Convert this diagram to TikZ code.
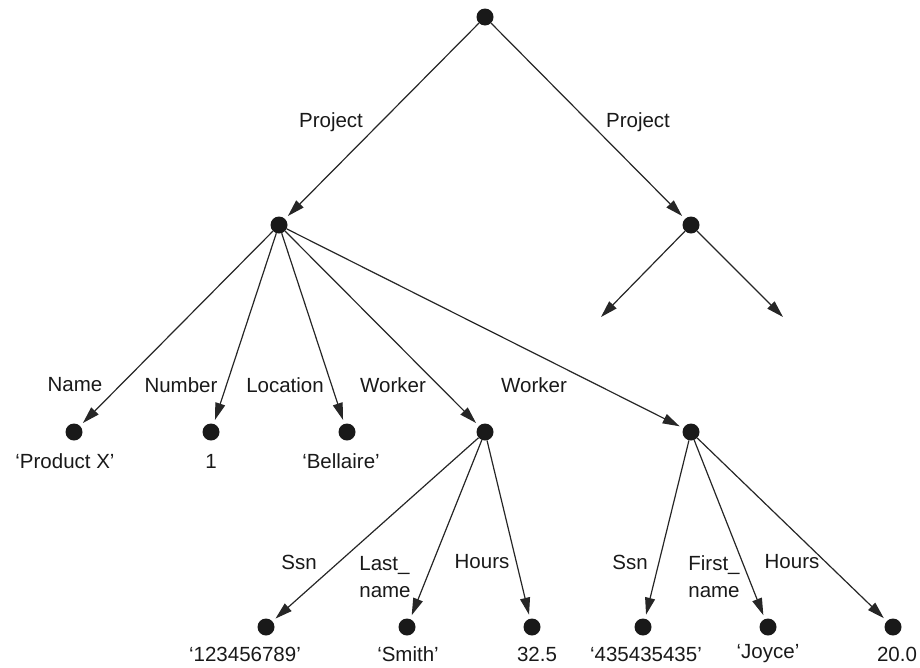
\documentclass[tikz,border=0pt]{standalone}
\usepackage{fontspec}
\setmainfont{Liberation Sans}
\usetikzlibrary{arrows.meta}
\begin{document}
\begin{tikzpicture}[x=1pt,y=-1pt,
  dot/.style={circle,fill=black!90,inner sep=0pt,minimum size=17pt},
  lbl/.style={inner sep=0pt,font=\fontsize{20.5}{27}\selectfont,text=black!90},
  edge/.style={draw=black!85,line width=1.2pt,-{Triangle[length=17pt,width=10pt]},shorten >=4pt}]
\useasboundingbox (0,0) rectangle (920,667);
% dots
\node[dot] (root) at (485,17) {};
\node[dot] (p1) at (279,225) {};
\node[dot] (p2) at (691,225) {};
\coordinate (e1) at (601,317);
\coordinate (e2) at (783,317);
\node[dot] (name) at (74,432) {};
\node[dot] (num) at (211,432) {};
\node[dot] (loc) at (347,432) {};
\node[dot] (w1) at (485,432) {};
\node[dot] (w2) at (691,432) {};
\node[dot] (ssn1) at (266,627) {};
\node[dot] (last) at (407,627) {};
\node[dot] (h1) at (532,627) {};
\node[dot] (ssn2) at (643,627) {};
\node[dot] (first) at (768,627) {};
\node[dot] (h2) at (893,627) {};
% edges
\draw[edge] (root) -- (p1);
\draw[edge] (root) -- (p2);
\draw[edge,shorten >=0pt] (p2) -- (e1);
\draw[edge,shorten >=0pt] (p2) -- (e2);
\draw[edge] (p1) -- (name);
\draw[edge] (p1) -- (num);
\draw[edge] (p1) -- (loc);
\draw[edge] (p1) -- (w1);
\draw[edge] (p1) -- (w2);
\draw[edge] (w1) -- (ssn1);
\draw[edge] (w1) -- (last);
\draw[edge] (w1) -- (h1);
\draw[edge] (w2) -- (ssn2);
\draw[edge] (w2) -- (first);
\draw[edge] (w2) -- (h2);
% edge labels
\node[lbl] (lp1) at (331,122) {Project};
\node[lbl] (lp2) at (638,122) {Project};
\node[lbl] (lname) at (75,385) {Name};
\node[lbl] (lnum) at (181,385) {Number};
\node[lbl] (lloc) at (285,385) {Location};
\node[lbl] (lw1) at (393,385) {Worker};
\node[lbl] (lw2) at (534,385) {Worker};
\node[lbl] (lssn1) at (299,562) {Ssn};
\node[lbl,align=left] (llast) at (385,577) {Last\_\\name};
\node[lbl] (lh1) at (482,562) {Hours};
\node[lbl] (lssn2) at (630,562) {Ssn};
\node[lbl,align=left] (lfirst) at (714,577) {First\_\\name};
\node[lbl] (lh2) at (792,562) {Hours};
% values
\node[lbl] (vname) at (65,461) {`Product X'};
\node[lbl] (vnum) at (211,461) {1};
\node[lbl] (vloc) at (341,461) {`Bellaire'};
\node[lbl] (vssn1) at (245,654) {`123456789'};
\node[lbl] (vlast) at (408,654) {`Smith'};
\node[lbl] (vh1) at (537,654) {32.5};
\node[lbl] (vssn2) at (646,654) {`435435435'};
\node[lbl] (vfirst) at (768,654) {`Joyce'};
\node[lbl] (vh2) at (897,654) {20.0};
\end{tikzpicture}
\end{document}
